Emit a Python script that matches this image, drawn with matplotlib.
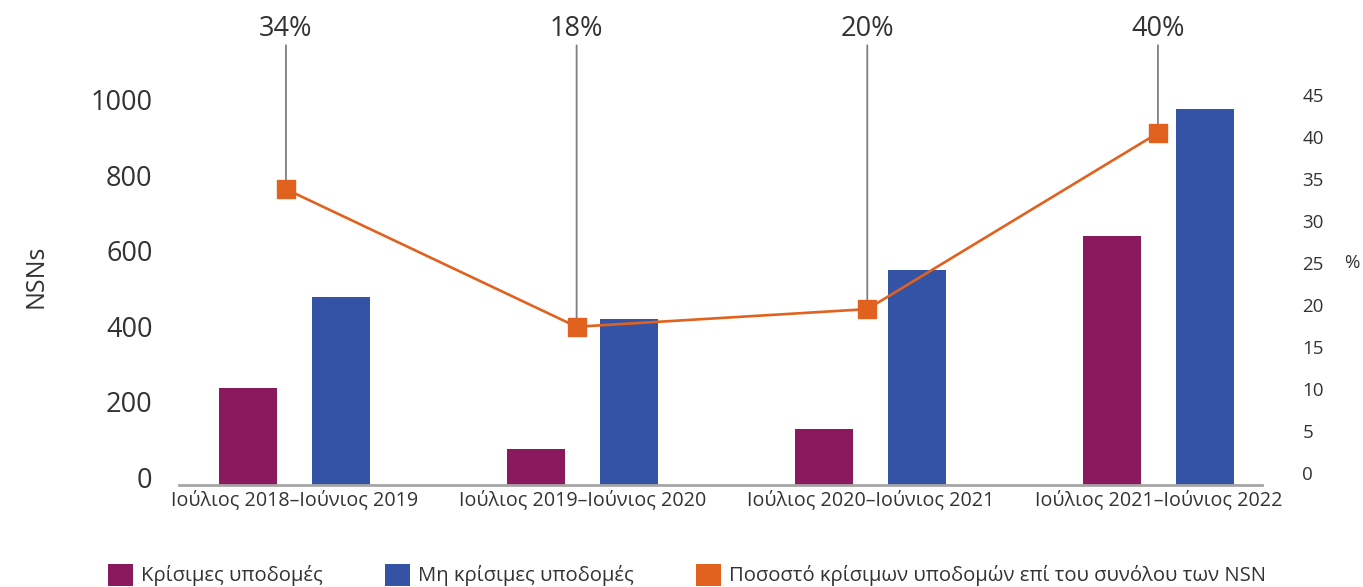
import matplotlib
matplotlib.use("Agg")
import matplotlib.pyplot as plt
import matplotlib.transforms as mtransforms
from matplotlib.patches import Patch
import numpy as np

plt.rcParams['font.family'] = ['Open Sans', 'DejaVu Sans']

# ---- data ----
categories = ["Ιούλιος 2018–Ιούνιος 2019", "Ιούλιος 2019–Ιούνιος 2020",
              "Ιούλιος 2020–Ιούνιος 2021", "Ιούλιος 2021–Ιούνιος 2022"]
critical = [257, 95, 149, 660]
non_critical = [499, 440, 570, 997]
share_pct = [33.8, 17.4, 19.5, 40.5]
share_labels = ["34%", "18%", "20%", "40%"]
left_ticks = [0, 200, 400, 600, 800, 1000]
right_ticks = [0, 5, 10, 15, 20, 25, 30, 35, 40, 45]
legend_labels = ["Κρίσιμες υποδομές", "Μη κρίσιμες υποδομές",
                 "Ποσοστό κρίσιμων υποδομών επί του συνόλου των NSN"]

c_purple = "#8A195E"
c_blue = "#3453A4"
c_orange = "#E0621E"
c_text = "#333333"

W, H = 1363, 587
fig = plt.figure(figsize=(W / 100, H / 100), dpi=100)

rect = [179 / W, 1 - 485 / H, (1262 - 179) / W, (485 - 80) / H]
ax = fig.add_axes(rect)

x = np.arange(len(categories))
off, bw = 0.1615, 0.2014
ax.bar(x - off, critical, width=bw, color=c_purple, zorder=2)
ax.bar(x + off, non_critical, width=bw, color=c_blue, zorder=2)

ax.set_xlim(-0.401, 3.359)
ax.set_ylim(0, 1074)
ax.set_xticks(x)
ax.set_xticklabels(categories, fontsize=14.2, color=c_text)
ax.tick_params(axis='x', length=0, pad=4)
ax.set_yticks(left_ticks)
ax.set_yticklabels([str(t) for t in left_ticks], fontsize=19.5, color=c_text)
ax.tick_params(axis='y', length=0, pad=19)
shift = mtransforms.ScaledTranslation(0, 8 / 100, fig.dpi_scale_trans)
for lab in ax.get_yticklabels():
    lab.set_transform(lab.get_transform() + shift)
for s in ['top', 'right', 'left']:
    ax.spines[s].set_visible(False)
ax.spines['bottom'].set_color('#A6A6A6')
ax.spines['bottom'].set_linewidth(2)
ax.set_ylabel("NSNs", fontsize=18, color=c_text, va='center', ha='center')
ax.yaxis.set_label_coords(-0.132, 0.516)

# ---- line overlay axes ----
ax2 = fig.add_axes(rect, sharex=None)
ax2.patch.set_visible(False)
for s in ax2.spines.values():
    s.set_visible(False)
ax2.set_xlim(-0.368, 3.358)
ax2.set_ylim(-1.47, 46.82)
ax2.set_xticks([])
ax2.yaxis.tick_right()
ax2.set_yticks(right_ticks)
ax2.set_yticklabels([str(t) for t in right_ticks], fontsize=13.5, color=c_text)
ax2.tick_params(axis='y', length=0, pad=29)
ax2.yaxis.set_label_position('right')
ax2.set_ylabel("%", fontsize=13.5, color=c_text, rotation=0, va='center', ha='center')
ax2.yaxis.set_label_coords(1.083, 0.548)

xl = np.arange(len(share_pct))
ax2.plot(xl, share_pct, color=c_orange, lw=1.9, marker='s', markersize=12.5,
         markerfacecolor=c_orange, markeredgecolor=c_orange, zorder=4)

text_trans = mtransforms.blended_transform_factory(ax2.transData, fig.transFigure)
for xi, v, lbl in zip(xl, share_pct, share_labels):
    ax2.annotate(lbl, xy=(xi, v), xytext=(xi, 1 - 42.5 / H), textcoords=text_trans,
                 ha='center', va='bottom', fontsize=19.5, color=c_text,
                 annotation_clip=False, zorder=3,
                 arrowprops=dict(arrowstyle='-', color='#7F7F7F', lw=1.3,
                                 shrinkA=0, shrinkB=0))

handles = [Patch(facecolor=c_purple), Patch(facecolor=c_blue), Patch(facecolor=c_orange)]
fig.legend(handles, legend_labels, loc='center', bbox_to_anchor=(687 / W, 1 - 575 / H),
           ncol=3, frameon=False, fontsize=14.6, handlelength=1.2, handleheight=1.3,
           handletextpad=0.4, columnspacing=3.1, labelcolor=c_text)

fig.savefig("out.png", dpi=100)
